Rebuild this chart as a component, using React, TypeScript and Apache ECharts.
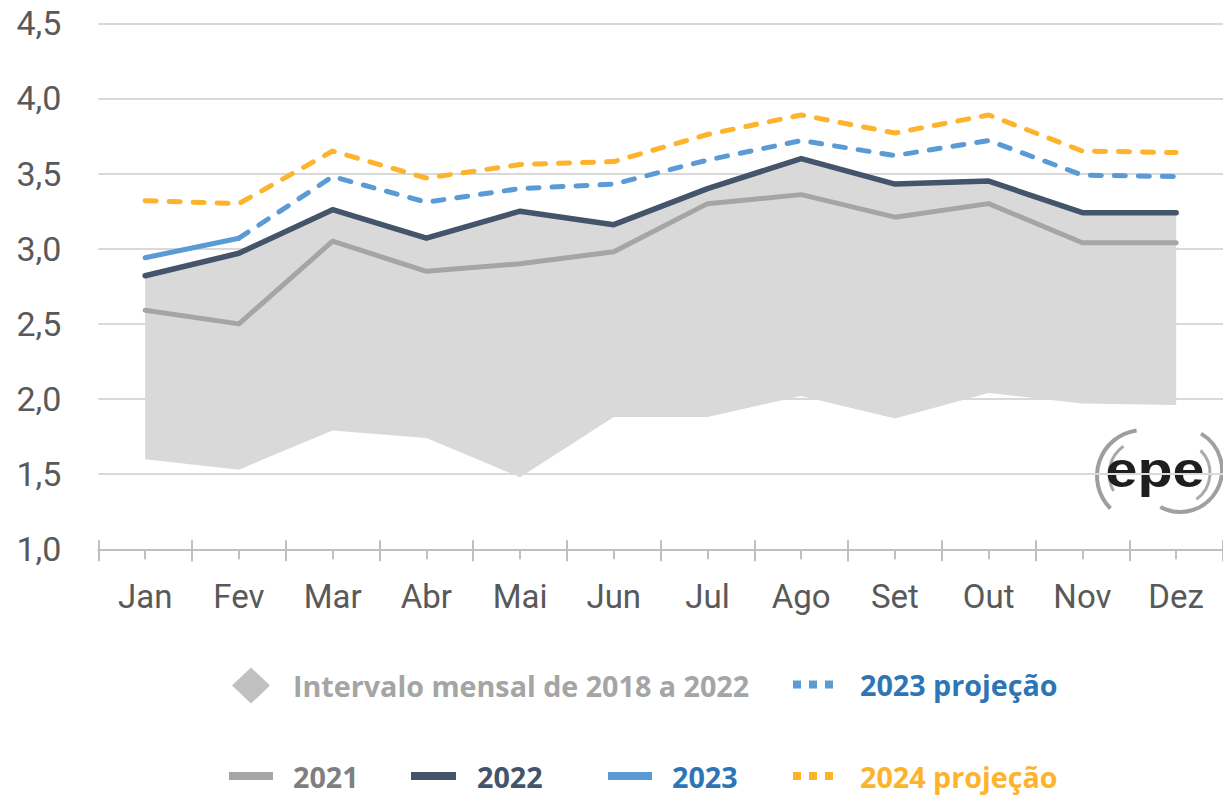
import React, { useEffect, useRef } from "react";
import * as echarts from "echarts";

const months = ["Jan", "Fev", "Mar", "Abr", "Mai", "Jun", "Jul", "Ago", "Set", "Out", "Nov", "Dez"];
const rangeMin = [1.60, 1.53, 1.79, 1.74, 1.48, 1.88, 1.88, 2.02, 1.87, 2.04, 1.97, 1.96];
const rangeMax = [2.82, 2.97, 3.26, 3.07, 3.25, 3.16, 3.40, 3.60, 3.43, 3.45, 3.24, 3.24];
const y2021 = [2.59, 2.50, 3.05, 2.85, 2.90, 2.98, 3.30, 3.36, 3.21, 3.30, 3.04, 3.04];
const y2022 = [2.82, 2.97, 3.26, 3.07, 3.25, 3.16, 3.40, 3.60, 3.43, 3.45, 3.24, 3.24];
const y2023 = [2.94, 3.07, null, null, null, null, null, null, null, null, null, null];
const y2023proj = [null, 3.07, 3.48, 3.31, 3.40, 3.43, 3.59, 3.72, 3.62, 3.72, 3.49, 3.48];
const y2024proj = [3.32, 3.30, 3.65, 3.47, 3.56, 3.58, 3.76, 3.89, 3.77, 3.89, 3.65, 3.64];

const NAME_RANGE = "Intervalo mensal de 2018 a 2022";
const NAME_2021 = "2021";
const NAME_2022 = "2022";
const NAME_2023 = "2023";
const NAME_2023P = "2023 projeção";
const NAME_2024P = "2024 projeção";

const FONT = "Roboto";
const LEGEND_FONT = "Open Sans";
const DOTS = "path://M0,0h8v8h-8zM16,0h8v8h-8zM32,0h8v8h-8z";

function legendItem(left: number, top: number, name: string, icon: string, w: number, h: number, pad: number, color: string) {
  return {
    left,
    top,
    padding: 0,
    itemGap: 0,
    itemWidth: w,
    itemHeight: h,
    selectedMode: false,
    itemStyle: { borderWidth: 0 },
    lineStyle: { width: 0 },
    data: [{ name, icon, textStyle: { color } }],
    textStyle: {
      fontFamily: LEGEND_FONT,
      fontSize: 28.7,
      fontWeight: "bold",
      lineHeight: 32,
      padding: [0, 0, 0, pad],
      color,
    },
  };
}

export default function App() {
  const ref = useRef<HTMLDivElement>(null);
  useEffect(() => {
    if (!ref.current) return;
    const chart = echarts.init(ref.current, undefined, { renderer: "svg" });
    const bandDiff = rangeMax.map((v, i) => +(v - rangeMin[i]).toFixed(3));
    const tickColor = "#BFBFBF";
    const baseX = {
      type: "category",
      data: months,
      boundaryGap: true,
      position: "bottom",
    };
    const dashed = (color: string) => ({
      color,
      width: 5,
      type: [11, 13],
      cap: "round",
      join: "round",
    });
    chart.setOption({
      animation: false,
      backgroundColor: "#ffffff",
      grid: { left: 98.3, top: 23.3, width: 1126.2, height: 526, containLabel: false },
      xAxis: [
        {
          ...baseX,
          axisLine: { show: true, lineStyle: { color: tickColor, width: 2 } },
          axisTick: { show: true, length: 12, lineStyle: { color: tickColor, width: 2 } },
          axisLabel: { color: "#595959", fontSize: 33, fontFamily: FONT, margin: 31 },
          splitLine: { show: false },
        },
        {
          ...baseX,
          axisLine: { show: false },
          axisTick: { show: true, inside: true, length: 9, lineStyle: { color: tickColor, width: 2 } },
          axisLabel: { show: false },
          splitLine: { show: false },
        },
        {
          ...baseX,
          axisLine: { show: false },
          axisTick: { show: true, alignWithLabel: true, length: 10, lineStyle: { color: tickColor, width: 2 } },
          axisLabel: { show: false },
          splitLine: { show: false },
        },
      ],
      yAxis: {
        type: "value",
        min: 1,
        max: 4.5,
        interval: 0.5,
        axisLine: { show: false },
        axisTick: { show: false },
        axisLabel: {
          color: "#595959",
          fontSize: 34,
          fontFamily: FONT,
          margin: 37,
          formatter: (v: number) => v.toFixed(1).replace(".", ","),
        },
        splitLine: { lineStyle: { color: "#D9D9D9", width: 2 } },
      },
      legend: [
        legendItem(232, 667.5, NAME_RANGE, "diamond", 38, 36, 18, "#A5A5A5"),
        legendItem(793, 668.5, NAME_2023P, DOTS, 40, 8, 22, "#2E75B6"),
        legendItem(229, 760, NAME_2021, "rect", 44, 8, 15, "#7F7F7F"),
        legendItem(411, 760, NAME_2022, "rect", 45, 8, 16, "#44546A"),
        legendItem(608, 760, NAME_2023, "rect", 44, 8, 15, "#2E75B6"),
        legendItem(793, 760, NAME_2024P, DOTS, 40, 8, 22, "#FDB32B"),
      ],
      series: [
        {
          name: "base",
          type: "line",
          stack: "band",
          data: rangeMin,
          symbol: "none",
          lineStyle: { width: 0, opacity: 0 },
          silent: true,
        },
        {
          name: NAME_RANGE,
          type: "line",
          stack: "band",
          data: bandDiff,
          symbol: "none",
          itemStyle: { color: "#C0C0C0" },
          lineStyle: { width: 0, opacity: 0 },
          areaStyle: { color: "#D9D9D9", opacity: 1 },
          silent: true,
        },
        {
          name: NAME_2021,
          type: "line",
          data: y2021,
          symbol: "none",
          itemStyle: { color: "#A5A5A5" },
          lineStyle: { color: "#A5A5A5", width: 5, cap: "round", join: "round" },
        },
        {
          name: NAME_2022,
          type: "line",
          data: y2022,
          symbol: "none",
          itemStyle: { color: "#44546A" },
          lineStyle: { color: "#44546A", width: 5.5, cap: "round", join: "round" },
        },
        {
          name: NAME_2023,
          type: "line",
          data: y2023,
          symbol: "none",
          itemStyle: { color: "#5B9BD5" },
          lineStyle: { color: "#5B9BD5", width: 5, cap: "round", join: "round" },
        },
        {
          name: NAME_2023P,
          type: "line",
          data: y2023proj,
          symbol: "none",
          itemStyle: { color: "#5B9BD5" },
          lineStyle: dashed("#5B9BD5"),
        },
        {
          name: NAME_2024P,
          type: "line",
          data: y2024proj,
          symbol: "none",
          itemStyle: { color: "#FDB32B" },
          lineStyle: dashed("#FDB32B"),
        },
      ],
      graphic: [
        {
          type: "group",
          children: [
            { type: "rect", shape: { x: 1088, y: 434, width: 140, height: 84 }, style: { fill: "#ffffff" } },
            {
              type: "arc",
              shape: { cx: 1143, cy: 476, r: 46, startAngle: (135 * Math.PI) / 180, endAngle: (262 * Math.PI) / 180, clockwise: true },
              style: { stroke: "#9E9E9E", lineWidth: 4, fill: null },
            },
            {
              type: "arc",
              shape: { cx: 1143, cy: 474, r: 34, startAngle: (150 * Math.PI) / 180, endAngle: (235 * Math.PI) / 180, clockwise: true },
              style: { stroke: "#A8A8A8", lineWidth: 3, fill: null },
            },
            {
              type: "arc",
              shape: { cx: 1180, cy: 470, r: 42, startAngle: (-60 * Math.PI) / 180, endAngle: (118 * Math.PI) / 180, clockwise: true },
              style: { stroke: "#A0A0A0", lineWidth: 4, fill: null },
            },
            {
              type: "arc",
              shape: { cx: 1178, cy: 473, r: 32, startAngle: (-45 * Math.PI) / 180, endAngle: (55 * Math.PI) / 180, clockwise: true },
              style: { stroke: "#AAAAAA", lineWidth: 3, fill: null },
            },
            {
              type: "text",
              x: 1155,
              y: 469,
              scaleX: 1.15,
              style: {
                text: "epe",
                font: 'bold 50px "Liberation Sans"',
                textAlign: "center",
                textVerticalAlign: "middle",
                fill: "#1E1E1E",
              },
            },
          ],
        },
      ],
    });
    return () => chart.dispose();
  }, []);
  return (
    <div
      ref={ref}
      style={{ position: "fixed", left: 0, top: 0, width: 1223, height: 796, background: "#fff" }}
    />
  );
}
